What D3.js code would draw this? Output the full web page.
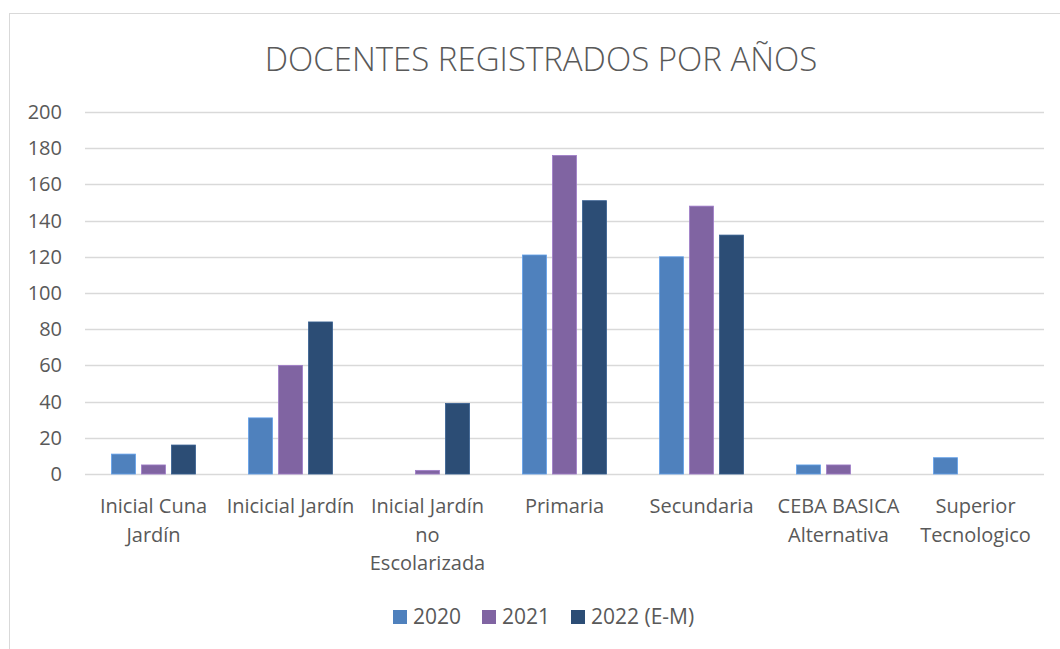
<!doctype html>
<meta charset="utf-8">
<title>Docentes registrados por años</title>
<script src="https://cdn.jsdelivr.net/npm/d3@7"></script>
<style>
  body { margin: 0; background: #fff; }
  text { font-family: "Open Sans", "Noto Sans", sans-serif; fill: #595959; }
</style>
<body>
<div id="chart"></div>
<script>

var categories = ['Inicial Cuna Jardín', 'Inicicial Jardín', 'Inicial Jardín no Escolarizada',
                  'Primaria', 'Secundaria', 'CEBA BASICA Alternativa', 'Superior Tecnologico'];
// how Excel wrapped each category label
var categoryLines = [['Inicial Cuna', 'Jardín'], ['Inicicial Jardín'], ['Inicial Jardín', 'no', 'Escolarizada'],
                     ['Primaria'], ['Secundaria'], ['CEBA BASICA', 'Alternativa'], ['Superior', 'Tecnologico']];
var seriesNames = ['2020', '2021', '2022 (E-M)'];
var values2020 = [11, 31, 0, 121, 120, 5, 9];
var values2021 = [5, 60, 2, 176, 148, 5, 0];
var values2022 = [16, 84, 39, 151, 132, 0, 0];
var yTicks = [0, 20, 40, 60, 80, 100, 120, 140, 160, 180, 200];

var colors = ['#4f81bd', '#8064a2', '#2c4d75'];
var series = [values2020, values2021, values2022];

var W = 1060, H = 649
  , plotLeft = 85, plotRight = 1044, plotTop = 112, plotBottom = 474;

var svg = d3.select('#chart').append('svg')
  .attr('width', W)
  .attr('height', H);

// chart frame
svg.append('rect')
  .attr('x', 9.5).attr('y', 13.5)
  .attr('width', 1080).attr('height', 700)
  .style('fill', 'none')
  .style('stroke', '#d9d9d9')
  .style('stroke-width', 1);

svg.append('text')
  .attr('x', 541).attr('y', 71)
  .attr('text-anchor', 'middle')
  .style('font-size', '33px')
  .style('font-weight', 300)
  .text('DOCENTES REGISTRADOS POR AÑOS');

var x0 = d3.scaleBand().domain(categories).range([plotLeft, plotRight]);
var y = d3.scaleLinear().domain([0, 200]).range([plotBottom, plotTop]);

// gridlines
svg.append('g').selectAll('line')
  .data(yTicks)
  .enter().append('line')
  .attr('x1', plotLeft).attr('x2', plotRight)
  .attr('y1', function(d) { return Math.round(y(d)) + 0.5 })
  .attr('y2', function(d) { return Math.round(y(d)) + 0.5 })
  .style('stroke', '#d9d9d9')
  .style('stroke-width', 1.5);

var yAxis = svg.append('g')
  .attr('transform', 'translate(' + (plotLeft - 23) + ',0)')
  .call(d3.axisLeft(y).tickValues(yTicks).tickSize(0).tickPadding(0));
yAxis.select('.domain').remove();
yAxis.selectAll('text')
  .style('font-size', '20px')
  .style('fill', '#595959')
  .style('font-family', '"Open Sans", sans-serif');

// bars: 24px wide, 6px apart, centred on each category
var barW = 24, step = 30;
series.forEach(function(vals, s) {
  svg.append('g').selectAll('rect')
    .data(vals)
    .enter().append('rect')
    .attr('x', function(d, i) { return x0(categories[i]) + x0.bandwidth() / 2 + (s - 1) * step - barW / 2 })
    .attr('y', function(d) { return y(d) })
    .attr('width', barW)
    .attr('height', function(d) { return y(0) - y(d) })
    .style('fill', colors[s])
    .style('stroke', d3.color(colors[s]).brighter(0.6))
    .style('stroke-width', 0.8);
});

// category labels
var xl = svg.append('g');
categoryLines.forEach(function(lines, i) {
  var cx = x0(categories[i]) + x0.bandwidth() / 2;
  var t = xl.append('text')
    .attr('text-anchor', 'middle')
    .attr('x', cx)
    .attr('y', 513)
    .style('font-size', '20px');
  lines.forEach(function(l, k) {
    t.append('tspan')
      .attr('x', cx)
      .attr('dy', k === 0 ? 0 : 28.5)
      .text(l);
  });
});

// legend
var legendX = [393, 482, 571];
var lg = svg.append('g');
seriesNames.forEach(function(n, i) {
  lg.append('rect')
    .attr('x', legendX[i]).attr('y', 610)
    .attr('width', 14).attr('height', 14)
    .style('fill', colors[i]);
  lg.append('text')
    .attr('x', legendX[i] + 20).attr('y', 624)
    .style('font-size', '21px')
    .text(n);
});

</script>
</body>
